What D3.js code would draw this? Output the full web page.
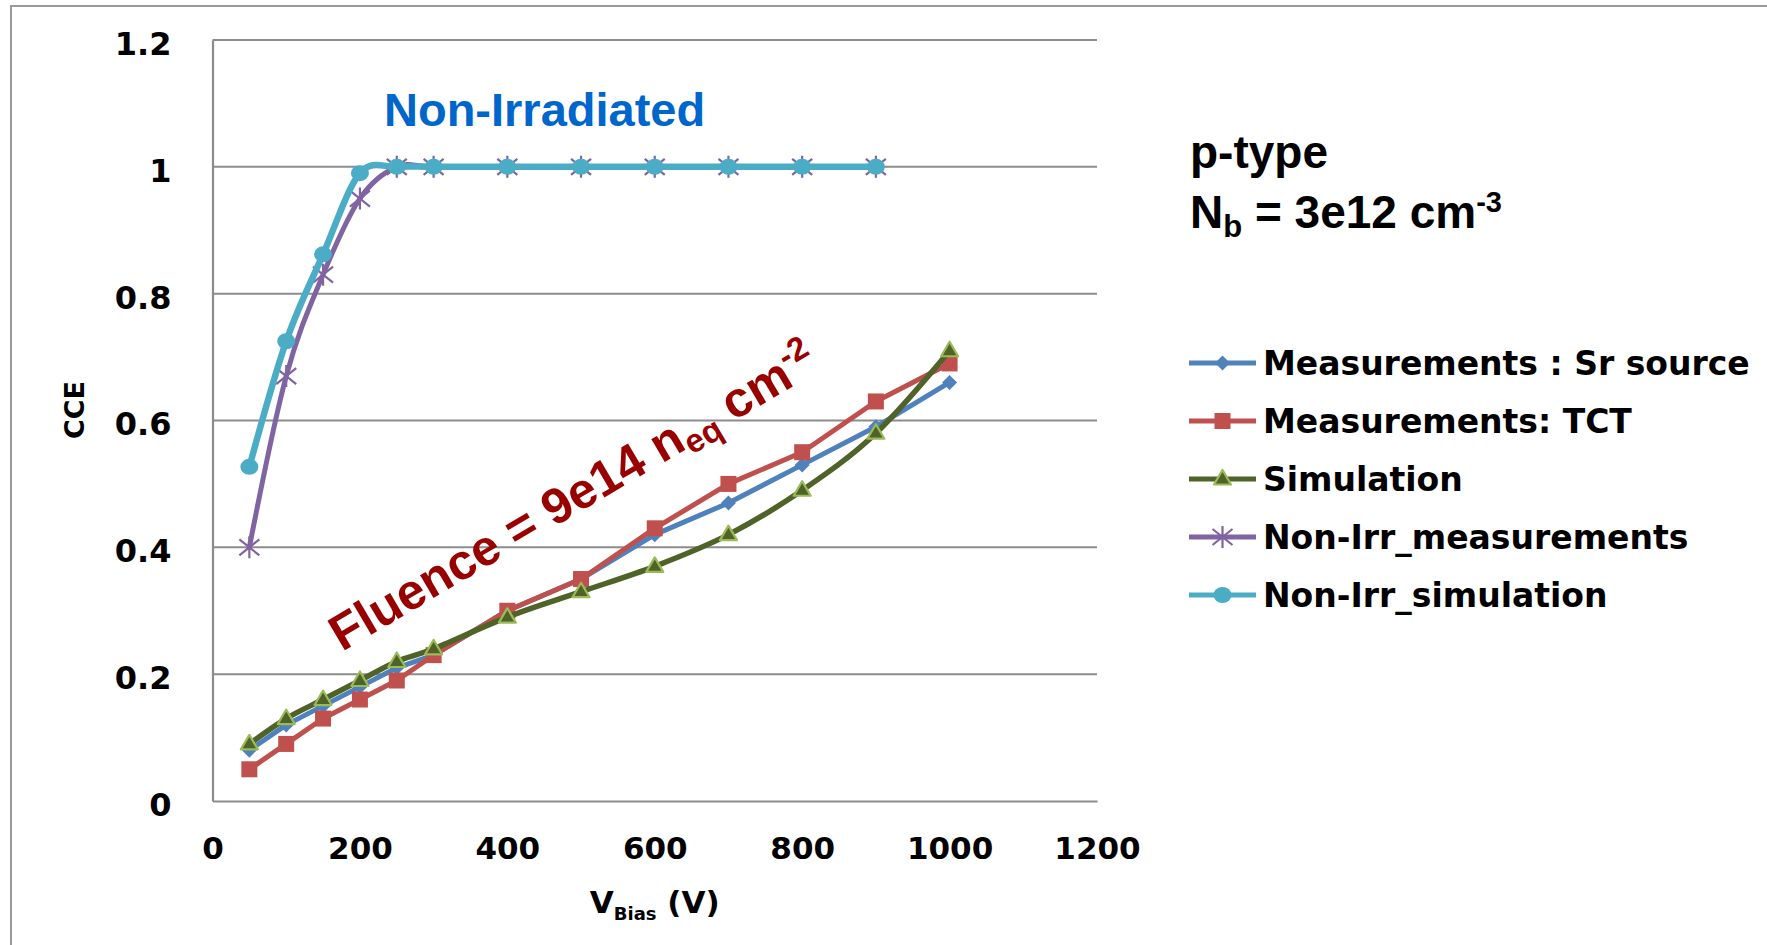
<!DOCTYPE html>
<html>
<head>
<meta charset="utf-8">
<script src="https://cdn.jsdelivr.net/npm/d3@7"></script>
<style>
  html, body { margin: 0; padding: 0; background: #ffffff; }
  svg { display: block; }
</style>
</head>
<body>
<script>
// ---- data: charge collection efficiency vs bias voltage ----
const biasIrr = [50, 100, 150, 200, 250, 300, 400, 500, 600, 700, 800, 900, 1000];
const cceSrSource = [0.08, 0.12, 0.15, 0.18, 0.21, 0.23, 0.30, 0.35, 0.42, 0.47, 0.53, 0.59, 0.66];
const cceTCT = [0.05, 0.09, 0.13, 0.16, 0.19, 0.23, 0.30, 0.35, 0.43, 0.50, 0.55, 0.63, 0.69];
const cceSimulation = [0.09, 0.13, 0.16, 0.19, 0.22, 0.24, 0.29, 0.33, 0.37, 0.42, 0.49, 0.58, 0.71];

const biasNonIrr = [50, 100, 150, 200, 250, 300, 400, 500, 600, 700, 800, 900];
const cceNonIrrMeas = [0.40, 0.67, 0.83, 0.95, 1, 1, 1, 1, 1, 1, 1, 1];
const cceNonIrrSim = [0.527, 0.725, 0.862, 0.99, 1, 1, 1, 1, 1, 1, 1, 1];

const xTickValues = [0, 200, 400, 600, 800, 1000, 1200];
const xTickLabels = ["0", "200", "400", "600", "800", "1000", "1200"];
const yTickValues = [0, 0.2, 0.4, 0.6, 0.8, 1.0, 1.2];
const yTickLabels = ["0", "0.2", "0.4", "0.6", "0.8", "1", "1.2"];

const seriesNames = ["Measurements : Sr source", "Measurements: TCT", "Simulation",
                     "Non-Irr_measurements", "Non-Irr_simulation"];

// ---- layout ----
const W = 1767, H = 945;
const plot = { left: 212.5, right: 1097, top: 40, bottom: 801 };
const gridColor = "#8c8c8c";
const tickFont = "'DejaVu Sans', sans-serif";
const noteFont = "'Liberation Sans', Arial, sans-serif";

const svg = d3.select("body").append("svg")
  .attr("width", W).attr("height", H)
  .attr("viewBox", `0 0 ${W} ${H}`);

svg.append("rect").attr("width", W).attr("height", H).attr("fill", "#ffffff");

// outer chart frame (runs off the right and bottom edges)
svg.append("rect")
  .attr("x", 11).attr("y", 6)
  .attr("width", W + 40).attr("height", H + 40)
  .attr("fill", "none").attr("stroke", "#999999").attr("stroke-width", 2);

const x = d3.scaleLinear().domain([0, 1200]).range([plot.left, plot.right]);
const y = d3.scaleLinear().domain([0, 1.2]).range([plot.bottom, plot.top]);

// horizontal gridlines
svg.append("g").selectAll("line")
  .data(yTickValues.filter(v => v > 0))
  .join("line")
  .attr("x1", plot.left).attr("x2", plot.right)
  .attr("y1", d => y(d)).attr("y2", d => y(d))
  .attr("stroke", gridColor).attr("stroke-width", 2);

// axes
const xAxis = svg.append("g")
  .attr("transform", `translate(0,${plot.bottom})`)
  .call(d3.axisBottom(x).tickValues(xTickValues)
    .tickFormat((d, i) => xTickLabels[i]).tickSize(0).tickPadding(36));
const yAxis = svg.append("g")
  .attr("transform", `translate(${plot.left},0)`)
  .call(d3.axisLeft(y).tickValues(yTickValues)
    .tickFormat((d, i) => yTickLabels[i]).tickSize(0).tickPadding(41));

[xAxis, yAxis].forEach(g => {
  g.select(".domain").attr("stroke", gridColor).attr("stroke-width", 2.2);
  g.selectAll("text")
    .attr("font-family", tickFont).attr("font-weight", "bold")
    .attr("font-size", 31).attr("fill", "#000");
});
yAxis.selectAll("text").attr("font-size", 32).attr("dy", "0.45em");

// axis titles
svg.append("text")
  .attr("transform", `translate(84,410) rotate(-90)`)
  .attr("text-anchor", "middle")
  .attr("font-family", tickFont).attr("font-weight", "bold").attr("font-size", 27)
  .text("CCE");

const xTitle = svg.append("text")
  .attr("x", (plot.left + plot.right) / 2).attr("y", 913)
  .attr("text-anchor", "middle")
  .attr("font-family", tickFont).attr("font-weight", "bold").attr("font-size", 31);
xTitle.append("tspan").text("V");
xTitle.append("tspan").attr("font-size", 18).attr("dy", 7).text("Bias");
xTitle.append("tspan").attr("dy", -7).text(" (V)");

// ---- marker shapes ----
const markerDraw = {
  diamond: (g, color) => g.append("path")
    .attr("d", "M0,-7.5L7.5,0L0,7.5L-7.5,0Z").attr("fill", color),
  square: (g, color) => g.append("rect")
    .attr("x", -8).attr("y", -8).attr("width", 16).attr("height", 16).attr("fill", color),
  triangle: (g, color) => g.append("path")
    .attr("d", "M0,-9L8.5,5.5L-8.5,5.5Z").attr("fill", color)
    .attr("stroke", "#9BBB59").attr("stroke-width", 2.2).attr("stroke-linejoin", "round"),
  star: (g, color) => g.append("path")
    .attr("d", "M-10,-8L10,8M-10,8L10,-8M0,-11L0,11")
    .attr("stroke", color).attr("stroke-width", 2.2).attr("fill", "none"),
  circle: (g, color) => g.append("ellipse")
    .attr("rx", 9).attr("ry", 8).attr("fill", color)
};

const series = [
  { name: seriesNames[0], xs: biasIrr, ys: cceSrSource, color: "#4F81BD", marker: "diamond", width: 5, smooth: false },
  { name: seriesNames[1], xs: biasIrr, ys: cceTCT, color: "#C0504D", marker: "square", width: 5, smooth: false },
  { name: seriesNames[2], xs: biasIrr, ys: cceSimulation, color: "#4F6228", marker: "triangle", width: 5.5, smooth: true },
  { name: seriesNames[3], xs: biasNonIrr, ys: cceNonIrrMeas, color: "#8064A2", marker: "star", width: 5, smooth: true },
  { name: seriesNames[4], xs: biasNonIrr, ys: cceNonIrrSim, color: "#4BACC6", marker: "circle", width: 6.5, smooth: true }
];

const plotG = svg.append("g");
series.forEach(s => {
  const pts = s.xs.map((v, i) => [v, s.ys[i]]);
  const line = d3.line()
    .x(d => x(d[0])).y(d => y(d[1]))
    .curve(s.smooth ? d3.curveCardinal.tension(0) : d3.curveLinear);
  const g = plotG.append("g");
  g.append("path").datum(pts)
    .attr("d", line).attr("fill", "none")
    .attr("stroke", s.color).attr("stroke-width", s.width)
    .attr("stroke-linejoin", "round").attr("stroke-linecap", "round");
  g.selectAll("g.mk").data(pts).join("g")
    .attr("class", "mk")
    .attr("transform", d => `translate(${x(d[0])},${y(d[1])})`)
    .each(function () { markerDraw[s.marker](d3.select(this), s.color); });
});

// ---- legend ----
const legend = svg.append("g");
const legendRowY = d3.scalePoint().domain(seriesNames).range([363, 595]);
series.forEach(s => {
  const ly = legendRowY(s.name);
  legend.append("line")
    .attr("x1", 1189).attr("x2", 1256).attr("y1", ly).attr("y2", ly)
    .attr("stroke", s.color).attr("stroke-width", 5);
  markerDraw[s.marker](legend.append("g").attr("transform", `translate(1222.5,${ly})`), s.color);
  legend.append("text")
    .attr("x", 1263).attr("y", ly).attr("dy", "0.36em")
    .attr("font-family", tickFont).attr("font-weight", "bold").attr("font-size", 33)
    .attr("fill", "#000")
    .text(s.name);
});

// ---- annotations ----
svg.append("text")
  .attr("x", 384).attr("y", 126)
  .attr("font-family", noteFont).attr("font-weight", "bold").attr("font-size", 47)
  .attr("fill", "#0066CC")
  .text("Non-Irradiated");

svg.append("text")
  .attr("x", 1190).attr("y", 168)
  .attr("font-family", noteFont).attr("font-weight", "bold").attr("font-size", 46)
  .attr("fill", "#000")
  .text("p-type");

const nb = svg.append("text")
  .attr("x", 1190).attr("y", 228)
  .attr("font-family", noteFont).attr("font-weight", "bold").attr("font-size", 46)
  .attr("fill", "#000");
nb.append("tspan").text("N");
nb.append("tspan").attr("font-size", 31).attr("dy", 9).text("b");
nb.append("tspan").attr("dy", -9).text(" = 3e12 cm");
nb.append("tspan").attr("font-size", 29).attr("dy", -16).text("-3");

const fl = svg.append("text")
  .attr("transform", "translate(342,652) rotate(-30.5)")
  .attr("font-family", noteFont).attr("font-weight", "bold").attr("font-size", 50)
  .attr("fill", "#990000");
fl.append("tspan").text("Fluence = 9e14 n");
fl.append("tspan").attr("font-size", 33).attr("dy", 8).text("eq");
fl.append("tspan").attr("dy", -8).text(" cm");
fl.append("tspan").attr("font-size", 33).attr("dy", -19).text("-2");
</script>
</body>
</html>
